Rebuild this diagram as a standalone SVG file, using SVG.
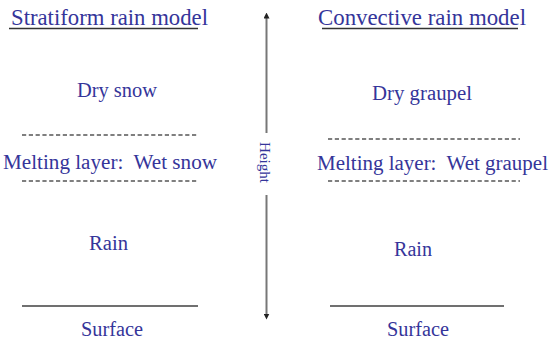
<svg xmlns="http://www.w3.org/2000/svg" width="549" height="340" viewBox="0 0 549 340">
<style>
text{font-family:"Liberation Serif","Times New Roman",serif;fill:#35359a;white-space:pre}
.t{font-size:22.7px}
.l{font-size:20.5px}
.ul{stroke:#333;stroke-width:1.5}
.d{stroke:#555;stroke-width:1.3;stroke-dasharray:4.2 2.6}
.s{stroke:#707070;stroke-width:2}
.ax{stroke:#777;stroke-width:2;fill:none}
</style>
<defs>
<marker id="ah" viewBox="0 0 8 8" refX="2" refY="4" markerWidth="3" markerHeight="3" orient="auto-start-reverse">
<path d="M0,0 L8,4 L0,8 z" fill="#222"/>
</marker>
</defs>
<g id="strat-title"><text class="t" x="11" y="25" textLength="197" lengthAdjust="spacingAndGlyphs">Stratiform rain model</text><line class="ul" x1="9" y1="28.5" x2="198" y2="28.5"/></g>
<g id="conv-title"><text class="t" x="318" y="25" textLength="208" lengthAdjust="spacingAndGlyphs">Convective rain model</text><line class="ul" x1="322" y1="28.5" x2="518" y2="28.5"/></g>
<g id="strat-dry"><text class="l" x="77" y="97" textLength="80" lengthAdjust="spacingAndGlyphs">Dry snow</text></g>
<g id="strat-melt">
<line class="d" x1="22" y1="135" x2="198" y2="135"/>
<text class="l" x="3" y="169" textLength="214" lengthAdjust="spacingAndGlyphs" xml:space="preserve">Melting layer:  Wet snow</text>
<line class="d" x1="22" y1="181" x2="198" y2="181"/>
</g>
<g id="strat-rain"><text class="l" x="89" y="250" textLength="39" lengthAdjust="spacingAndGlyphs">Rain</text></g>
<g id="strat-surface"><line class="s" x1="22" y1="306" x2="198" y2="306"/><text class="l" x="81" y="336" textLength="62" lengthAdjust="spacingAndGlyphs">Surface</text></g>
<g id="conv-dry"><text class="l" x="372" y="100" textLength="100" lengthAdjust="spacingAndGlyphs">Dry graupel</text></g>
<g id="conv-melt">
<line class="d" x1="328" y1="139" x2="520" y2="139"/>
<text class="l" x="317" y="170" textLength="231" lengthAdjust="spacingAndGlyphs" xml:space="preserve">Melting layer:  Wet graupel</text>
<line class="d" x1="328" y1="181" x2="520" y2="181"/>
</g>
<g id="conv-rain"><text class="l" x="394" y="256" textLength="38" lengthAdjust="spacingAndGlyphs">Rain</text></g>
<g id="conv-surface"><line class="s" x1="330" y1="306" x2="504" y2="306"/><text class="l" x="387" y="336" textLength="62" lengthAdjust="spacingAndGlyphs">Surface</text></g>
<g id="connectors">
<line class="ax" x1="266.5" y1="133" x2="266.5" y2="17" marker-end="url(#ah)"/>
<line class="ax" x1="266.5" y1="195" x2="266.5" y2="315" marker-end="url(#ah)"/>
</g>
<g id="height-label"><text x="265" y="162.5" font-size="15" text-anchor="middle" dominant-baseline="central" transform="rotate(90 265 162.5)">Height</text></g>
</svg>
